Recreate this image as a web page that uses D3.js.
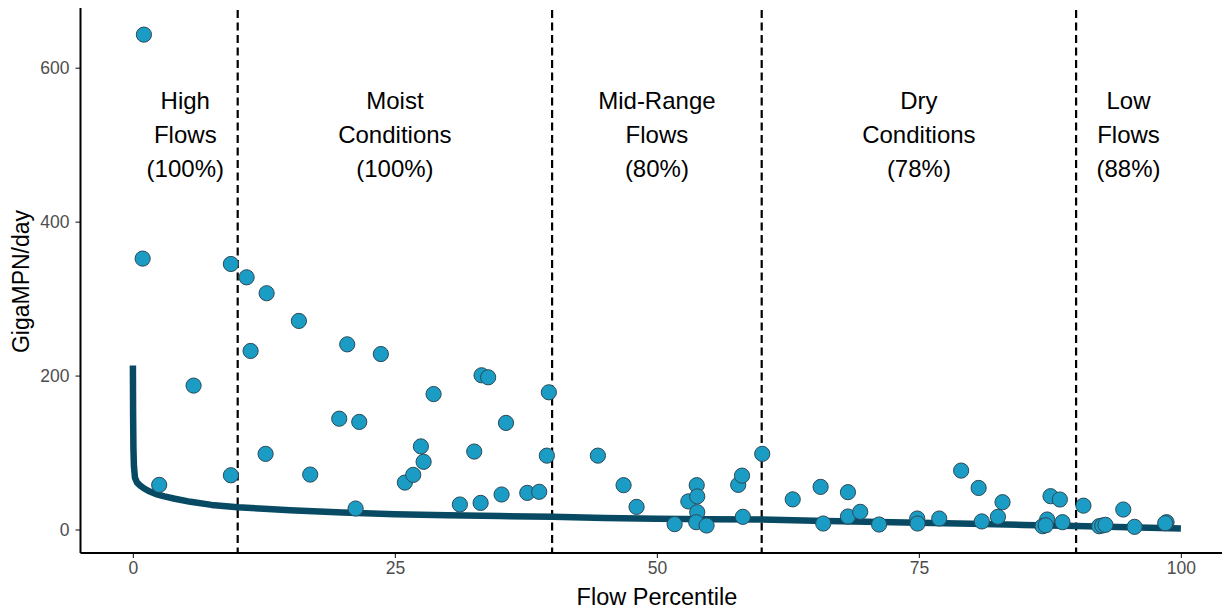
<!DOCTYPE html>
<html>
<head>
<meta charset="utf-8">
<script src="https://cdn.jsdelivr.net/npm/d3@7"></script>
<style>
  html, body { margin: 0; padding: 0; background: #ffffff; }
  svg { display: block; font-family: "Liberation Sans", Arial, sans-serif; }
</style>
</head>
<body>
<svg id="chart" width="1222" height="611"></svg>
<script>
// Observed daily loads (GigaMPN/day) by flow percentile
const pointPct = [1.05, 0.93, 2.51, 5.79, 9.35, 9.35, 10.85, 11.23, 12.76, 12.66,
  15.84, 16.92, 19.69, 20.45, 21.6, 21.25, 23.66, 25.95, 26.75, 27.48,
  27.74, 28.69, 31.2, 32.57, 33.18, 33.27, 33.9, 35.18, 35.6, 37.63,
  38.77, 39.5, 39.69, 44.37, 46.82, 48.06, 51.69, 53.0, 53.8, 53.85,
  53.85, 53.75, 54.74, 57.76, 58.12, 58.2, 60.05, 62.96, 65.62, 65.87,
  68.23, 68.23, 69.4, 71.2, 74.84, 74.87, 76.94, 79.03, 80.7, 81.0,
  82.98, 82.54, 87.56, 88.45, 87.24, 86.8, 87.1, 88.7, 90.7, 92.2,
  92.5, 92.8, 94.5, 95.58, 98.63, 98.5];
const pointLoad = [643, 352, 58, 187, 345, 70.5, 327.7, 232, 307, 98.3,
  271, 71.4, 144, 240.6, 139.8, 27.3, 228, 61, 71, 108,
  88, 176, 32.5, 101.3, 34.6, 200.4, 197.8, 45.5, 138.5, 47.6,
  49, 96, 178.3, 96, 57.6, 29.4, 7, 36.5, 57.6, 43,
  22.5, 9.5, 5.2, 58, 70, 16.5, 98.3, 39.2, 55.4, 7.8,
  48.5, 16.9, 23, 6.5, 14.3, 7.8, 14.3, 76.6, 54, 10.5,
  35.5, 16.5, 43.3, 39, 13, 4.3, 5.5, 9.5, 31, 4.3,
  5.2, 6.1, 26, 3.5, 9.5, 8.2];

// Load duration curve (allowable load at each flow percentile)
const curvePct = [0, 0.02, 0.05, 0.1, 0.2, 0.4, 0.7, 1.0, 1.5, 2.2, 3, 4, 5.5, 7.5, 10,
  12.5, 15, 20, 25, 30, 35, 40, 45, 50, 55, 60, 65, 70, 75, 80, 85, 90, 95, 100];
const curveLoad = [213, 150, 105, 82, 67, 61, 57, 54, 50, 46, 43, 40, 36, 32, 29,
  27, 25, 22, 20, 18.5, 17.5, 16.5, 15, 14, 13.5, 13, 11.5, 10, 8.7, 7.5, 6, 4.5, 3, 1.3];

// Flow regime boundaries and zone labels
const zoneBreaks = [10, 40, 60, 90];
const zoneCenters = [5, 25, 50, 75, 95];
const zoneNames = [["High", "Flows"], ["Moist", "Conditions"], ["Mid-Range", "Flows"],
  ["Dry", "Conditions"], ["Low", "Flows"]];
const zonePercents = ["(100%)", "(100%)", "(80%)", "(78%)", "(88%)"];

const xTicks = [0, 25, 50, 75, 100];
const yTicks = [0, 200, 400, 600];

const svg = d3.select("#chart");
const panel = { left: 80.5, right: 1233.3, top: 10, bottom: 553 };

const x = d3.scaleLinear().domain([-5, 105]).range([panel.left, panel.right]);
const y = d3.scaleLinear().domain([-30.5, 675]).range([panel.bottom, panel.top]);

// Regime boundaries
svg.append("g").selectAll("line").data(zoneBreaks).join("line")
  .attr("x1", d => x(d)).attr("x2", d => x(d))
  .attr("y1", panel.top).attr("y2", panel.bottom)
  .attr("stroke", "#000").attr("stroke-width", 2.2)
  .attr("stroke-dasharray", "8,4.5");

// Zone labels
const labels = svg.append("g").attr("font-size", 24).attr("fill", "#000")
  .attr("text-anchor", "middle");
zoneCenters.forEach((c, i) => {
  const lines = [...zoneNames[i], zonePercents[i]];
  lines.forEach((t, j) => {
    labels.append("text").attr("x", x(c)).attr("y", 108.5 + j * 34.1).text(t);
  });
});

// Duration curve
const curve = d3.line().x((d, i) => x(curvePct[i])).y((d, i) => y(curveLoad[i]));
svg.append("path").datum(curvePct)
  .attr("d", curve)
  .attr("fill", "none").attr("stroke", "#084A63").attr("stroke-width", 6.5)
  .attr("stroke-linejoin", "round");

// Observed samples
svg.append("g").selectAll("circle").data(pointPct).join("circle")
  .attr("cx", (d, i) => x(pointPct[i]))
  .attr("cy", (d, i) => y(pointLoad[i]))
  .attr("r", 7.6)
  .attr("fill", "#1A9CC4").attr("stroke", "#2C4A58").attr("stroke-width", 1);

// Axes
const xAxis = svg.append("g").attr("transform", `translate(0,${panel.bottom})`)
  .call(d3.axisBottom(x).tickValues(xTicks).tickSize(5).tickPadding(4));
const yAxis = svg.append("g").attr("transform", `translate(${panel.left},0)`)
  .call(d3.axisLeft(y).tickValues(yTicks).tickSize(5).tickPadding(6));
[xAxis, yAxis].forEach(a => {
  a.select(".domain").remove();
  a.selectAll(".tick line").attr("stroke", "#333").attr("stroke-width", 1.2);
  a.selectAll(".tick text").attr("fill", "#4D4D4D").attr("font-size", 17.5)
    .attr("font-family", "Liberation Sans, Arial, sans-serif");
});

svg.append("line").attr("x1", panel.left).attr("x2", panel.right)
  .attr("y1", panel.bottom).attr("y2", panel.bottom)
  .attr("stroke", "#000").attr("stroke-width", 2);
svg.append("line").attr("x1", panel.left).attr("x2", panel.left)
  .attr("y1", panel.top - 2).attr("y2", panel.bottom)
  .attr("stroke", "#000").attr("stroke-width", 2);

// Axis titles
svg.append("text").attr("x", (panel.left + 1233.3) / 2).attr("y", 605)
  .attr("text-anchor", "middle").attr("font-size", 23.5).text("Flow Percentile");
svg.append("text").attr("transform", `translate(29,${(panel.top + panel.bottom) / 2}) rotate(-90)`)
  .attr("text-anchor", "middle").attr("font-size", 23).text("GigaMPN/day");
</script>
</body>
</html>
